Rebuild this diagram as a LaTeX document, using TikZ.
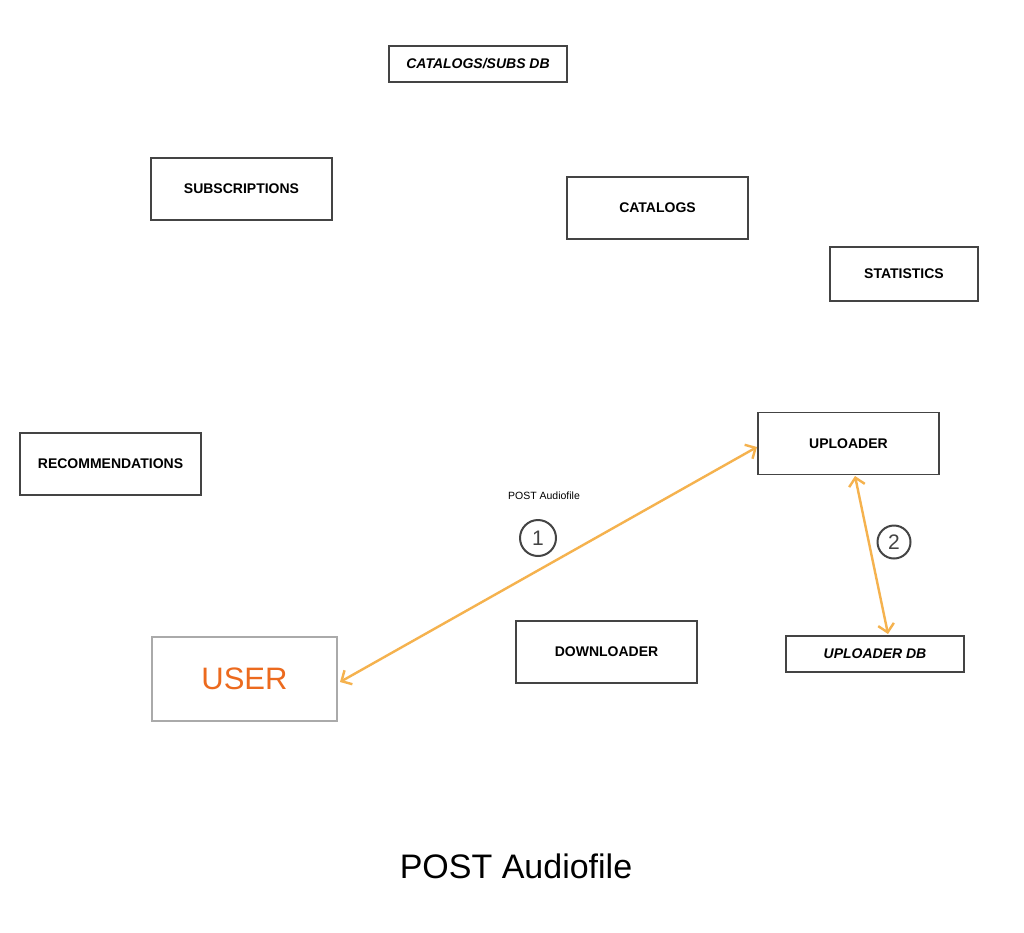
\documentclass[tikz,border=0pt]{standalone}
\usepackage{fontspec}
\setmainfont{Liberation Sans}
\usetikzlibrary{arrows.meta}
\definecolor{boxline}{HTML}{444444}
\definecolor{userline}{HTML}{AAAAAA}
\definecolor{usertext}{HTML}{EC6A1E}
\definecolor{arrowc}{HTML}{F5B24E}
\definecolor{circc}{HTML}{444444}
\begin{document}
\begin{tikzpicture}[x=1pt,y=-1pt,
  comp/.style={draw=boxline,line width=1.8pt,minimum width=181pt,minimum height=62pt,inner sep=0pt,font=\fontsize{14}{16}\selectfont\bfseries},
  dbbox/.style={draw=boxline,line width=2.2pt,minimum width=178pt,minimum height=36pt,inner sep=0pt,font=\fontsize{14}{16}\selectfont\bfseries\itshape},
  flow/.style={draw=arrowc,line width=2.4pt,{Straight Barb[length=8pt,width=16pt]}-{Straight Barb[length=8pt,width=16pt]}},
  step circle/.style={circle,draw=circc,line width=2pt,minimum size=36pt,inner sep=0pt,font=\fontsize{21}{23}\selectfont,text=circc}]
\useasboundingbox[fill=white] (0,0) rectangle (1024,932);
\node[dbbox] (catdb) at (478,64) {CATALOGS/SUBS DB};
\node[comp] (subs) at (241.5,189) {SUBSCRIPTIONS};
\node[comp] (cat) at (657.5,208) {CATALOGS};
\node[comp,minimum width=148pt,minimum height=54pt] (stats) at (904,274) {STATISTICS};
\node[comp] (upl) at (848.5,443.5) {UPLOADER};
\node[comp] (rec) at (110.5,464) {RECOMMENDATIONS};
\node[comp] (down) at (606.5,652) {DOWNLOADER};
\node[dbbox] (upldb) at (875,654) {UPLOADER DB};
\node[draw=userline,line width=2.5pt,minimum width=185pt,minimum height=84pt,inner sep=0pt,text=usertext,font=\fontsize{31}{35}\selectfont] (user) at (244.5,679) {USER};
\coordinate (a1s) at (340,682);
\coordinate (a1e) at (757,447);
\coordinate (a2s) at (855,476);
\coordinate (a2e) at (888,634);
\draw[flow] (a1s) -- (a1e);
\draw[flow] (a2s) -- (a2e);
\node[font=\fontsize{10.5}{12}\selectfont] (lbl) at (544,496) {POST Audiofile};
\node[step circle] (s1) at (538,538) {1};
\node[step circle,minimum size=33pt] (s2) at (894,542) {2};
\node[font=\fontsize{34}{40}\selectfont] (title) at (516,866) {POST Audiofile};
\end{tikzpicture}
\end{document}
